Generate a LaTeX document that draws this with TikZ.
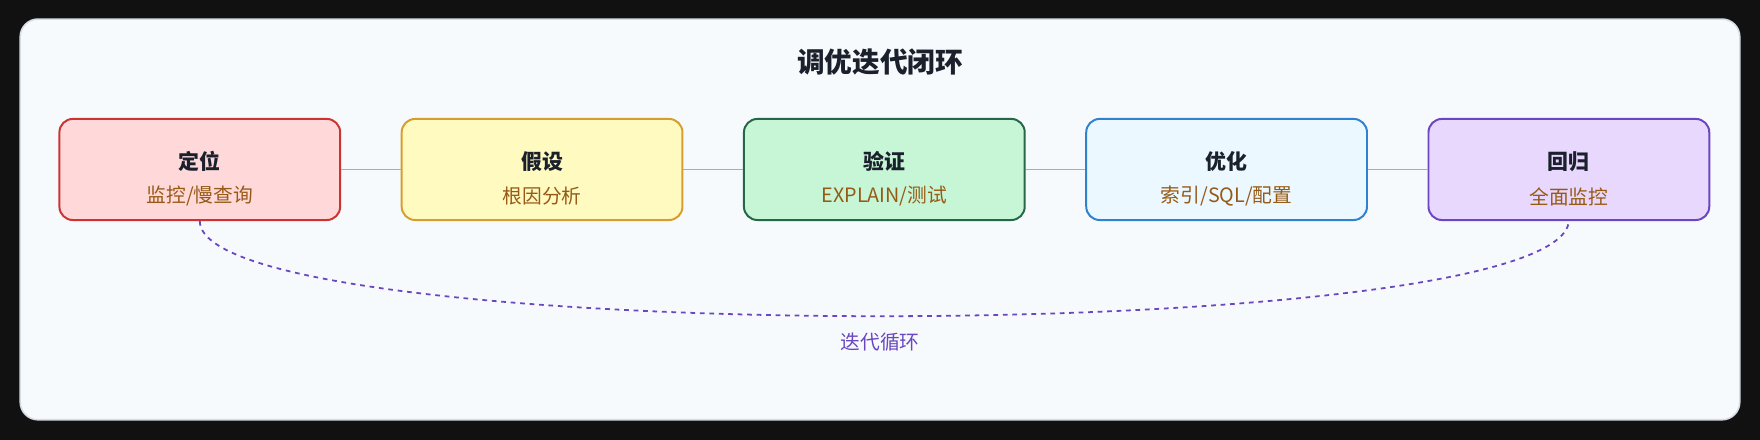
\documentclass[tikz,border=0pt]{standalone}
\usepackage{fontspec}
\setmainfont{Noto Sans CJK SC}
\usetikzlibrary{positioning}
\definecolor{panelfill}{HTML}{F7FAFC}
\definecolor{panelline}{HTML}{D5DCE4}
\definecolor{subtext}{HTML}{975A16}
\definecolor{linkgray}{HTML}{A0AEC0}
\definecolor{loopcol}{HTML}{6B46C1}
\tikzset{
  stepbox/.style={draw, line width=0.5pt, rounded corners=3.4pt, minimum width=2.5cm, minimum height=0.9cm},
  link/.style={draw=linkgray, line width=0.45pt},
}
\begin{document}
\begin{tikzpicture}[x=0.01cm,y=-0.01cm]
\useasboundingbox[fill={rgb,255:red,17;green,17;blue,17}] (0,0) rectangle (1568,392);
\draw[fill=panelfill, draw=panelline, line width=0.4pt, rounded corners=4.5pt] (18,17) rectangle (1550,374);
\node[font=\fontsize{7}{8}\selectfont\bfseries, text={rgb,255:red,26;green,32;blue,44}] (title) at (784,55) {调优迭代闭环};
% steps
\node[stepbox, draw={rgb,255:red,204;green,51;blue,51}, fill={rgb,255:red,255;green,217;blue,217}] (loc) at (178,151) {};
\node[stepbox, draw={rgb,255:red,214;green,158;blue,46}, fill={rgb,255:red,255;green,250;blue,192}, right=0.53cm of loc] (hyp) {};
\node[stepbox, draw={rgb,255:red,39;green,103;blue,73}, fill={rgb,255:red,198;green,246;blue,213}, right=0.53cm of hyp] (ver) {};
\node[stepbox, draw={rgb,255:red,49;green,130;blue,206}, fill={rgb,255:red,235;green,248;blue,255}, right=0.53cm of ver] (opt) {};
\node[stepbox, draw={rgb,255:red,107;green,70;blue,193}, fill={rgb,255:red,233;green,216;blue,253}, right=0.53cm of opt] (reg) {};
\foreach \n/\a/\b in {loc/定位/监控\slash 慢查询, hyp/假设/根因分析, ver/验证/EXPLAIN\slash 测试, opt/优化/索引\slash SQL\slash 配置, reg/回归/全面监控}{
  \node[font=\fontsize{5.3}{6}\selectfont\bfseries, text={rgb,255:red,26;green,32;blue,44}] at ([yshift=0.07cm]\n.center) {\a};
  \node[font=\fontsize{5}{6}\selectfont, text=subtext] at ([yshift=-0.24cm]\n.center) {\b};
}
\foreach \p/\q in {loc/hyp, hyp/ver, ver/opt, opt/reg}
  \draw[link] (\p.east) -- (\q.west);
% loop back
\draw[loopcol, line width=0.45pt, dash pattern=on 1.2pt off 1.2pt] (loc.south) .. controls (178,310) and (1390,310) .. (reg.south);
\node[font=\fontsize{5}{6}\selectfont, text=loopcol] (looplbl) at (784,305) {迭代循环};
\end{tikzpicture}
\end{document}
